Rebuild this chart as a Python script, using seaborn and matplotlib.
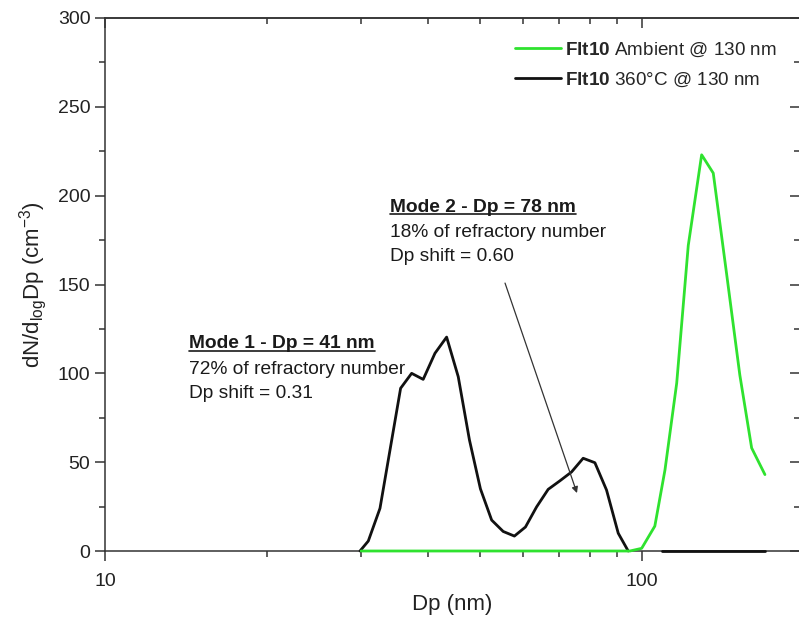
import matplotlib
matplotlib.use("Agg")
import matplotlib.pyplot as plt
from matplotlib.lines import Line2D
from matplotlib.ticker import NullFormatter, FixedLocator
import pandas as pd
import seaborn as sns

# Ambient aerosol size distribution (Flt10)
ambient_dp = [30.0, 95.0, 99.9, 105.7, 110.4, 116.1, 122.0, 129.2, 135.8,
              143.8, 152.2, 160.1, 169.5]
ambient_n = [0, 0, 1.5, 14, 45.6, 94.5, 172, 223, 212.7, 156, 99, 58, 43]

# Size distribution after the 360 °C thermodenuder (Flt10)
heated_dp = [29.85, 30.93, 32.52, 35.53, 37.25, 39.14, 41.17, 43.28, 45.49,
             47.73, 50.03, 52.50, 55.16, 57.88, 60.69, 63.65, 66.9, 70.35,
             73.96, 77.73, 81.74, 85.93, 90.35, 94.3, 109.0, 169.5]
heated_n = [0, 5.6, 24, 91.6, 100, 96.6, 111.3, 120.4, 98.1, 62.5, 35, 17.4,
            11, 8.4, 13.5, 24.8, 34.7, 39.5, 44.5, 52.2, 49.7, 34.3, 10, 0,
            0, 0]
heated_seg = [0] * 24 + [1, 1]

series_labels = [r"$\mathbf{Flt10}$ Ambient @ 130 nm",
                 r"$\mathbf{Flt10}$ 360°C @ 130 nm"]
series_colors = ["#2fe22f", "#111111"]

x_major = [10, 100]
x_major_labels = ["10", "100"]
x_minor = [20, 30, 40, 50, 60, 70, 80, 90]
y_major = [0, 50, 100, 150, 200, 250, 300]
y_minor = [25, 75, 125, 175, 225, 275]

mode1_lines = ["Mode 1 - Dp = 41 nm", "72% of refractory number",
               "Dp shift = 0.31"]
mode2_lines = ["Mode 2 - Dp = 78 nm", "18% of refractory number",
               "Dp shift = 0.60"]

sns.set_theme(style="ticks")
plt.rcParams["font.family"] = ["Liberation Sans", "DejaVu Sans"]
plt.rcParams["mathtext.fontset"] = "custom"
plt.rcParams["mathtext.rm"] = "Liberation Sans"
plt.rcParams["mathtext.it"] = "Liberation Sans:italic"
plt.rcParams["mathtext.bf"] = "Liberation Sans:bold"

df = pd.concat([
    pd.DataFrame({"Dp": heated_dp, "N": heated_n, "seg": heated_seg,
                  "series": series_labels[1]}),
    pd.DataFrame({"Dp": ambient_dp, "N": ambient_n, "seg": 0,
                  "series": series_labels[0]}),
], ignore_index=True)

W, H = 799, 618
fig = plt.figure(figsize=(W / 100, H / 100), dpi=100)
left, right, top, bottom = 105, 800, 18, 551
ax = fig.add_axes([left / W, (H - bottom) / H, (right - left) / W,
                   (bottom - top) / H])

sns.lineplot(data=df, x="Dp", y="N", hue="series", units="seg",
             estimator=None, hue_order=series_labels,
             palette=dict(zip(series_labels, series_colors)),
             linewidth=2.0, ax=ax, sort=False)

# Curves sit above the frame so the zero baselines stay visible
for ln in ax.get_lines():
    ln.set_zorder(3)
    ln.set_clip_on(False)
for ln in ax.get_lines():
    if ln.get_color() == series_colors[0]:
        ln.set_zorder(4)

ax.set_xscale("log")
ax.set_xlim(10, 197)
ax.set_ylim(0, 300)

axis_color = "#333333"
ax.xaxis.set_major_locator(FixedLocator(x_major))
ax.set_xticklabels(x_major_labels)
ax.xaxis.set_minor_locator(FixedLocator(x_minor))
ax.xaxis.set_minor_formatter(NullFormatter())
ax.set_yticks(y_major)
ax.yaxis.set_minor_locator(FixedLocator(y_minor))
ax.tick_params(which="major", direction="out", length=7, width=1.1,
               color=axis_color, labelsize=14, pad=3.5, labelcolor="#222222")
ax.tick_params(which="minor", direction="out", length=4, width=1.1,
               color=axis_color)
ax.tick_params(axis="x", which="major", pad=9)
for side in ["left", "bottom", "top", "right"]:
    ax.spines[side].set_color(axis_color)
    ax.spines[side].set_linewidth(1.1)
    ax.spines[side].set_visible(True)

# Mirror ticks on top and right, pointing inward
top_ax = ax.secondary_xaxis("top")
top_ax.xaxis.set_major_locator(FixedLocator(x_major))
top_ax.xaxis.set_minor_locator(FixedLocator(x_minor))
top_ax.tick_params(which="both", direction="in", labeltop=False,
                   color=axis_color, width=1.1)
top_ax.tick_params(which="major", length=7)
top_ax.tick_params(which="minor", length=4)
top_ax.spines["top"].set_color(axis_color)
top_ax.spines["top"].set_linewidth(1.1)

right_ax = ax.secondary_yaxis("right")
right_ax.yaxis.set_major_locator(FixedLocator(y_major))
right_ax.yaxis.set_minor_locator(FixedLocator(y_minor))
right_ax.tick_params(which="both", direction="in", labelright=False,
                     color=axis_color, width=1.1)
right_ax.tick_params(which="major", length=7)
right_ax.tick_params(which="minor", length=4)

ax.set_xlabel("Dp (nm)", fontsize=16, labelpad=3, color="#222222")
ax.set_ylabel(r"dN/d$_{\mathregular{log}}$Dp (cm$^{\mathregular{-3}}$)",
              fontsize=16, labelpad=6, color="#222222")

handles, labels = ax.get_legend_handles_labels()
order = [labels.index(s) for s in series_labels]
ax.legend([handles[i] for i in order], [labels[i] for i in order],
          loc="upper right", bbox_to_anchor=(0.978, 0.972),
          borderaxespad=0, frameon=False, fontsize=13.6,
          handlelength=2.4, handletextpad=0.25, labelspacing=0.62)
for line in ax.get_legend().get_lines():
    line.set_linewidth(2.0)

# Mode annotations
ann_fs = 13.8
titles = []
for lines, x0, ys in [(mode1_lines, 14.34, [114.1, 99.5, 85.9]),
                      (mode2_lines, 33.94, [191.0, 176.9, 163.2])]:
    for i, (txt, y0) in enumerate(zip(lines, ys)):
        t = ax.text(x0, y0, txt, fontsize=ann_fs, va="baseline", ha="left",
                    fontweight="bold" if i == 0 else "normal",
                    color="#1a1a1a")
        if i == 0:
            titles.append(t)

ax.annotate("", xy=(75.7, 32.6), xytext=(55.6, 150.8),
            arrowprops=dict(arrowstyle="-|>", color="#333333", lw=0.9,
                            mutation_scale=9, shrinkA=0, shrinkB=0))

# Underline the mode headings
fig.canvas.draw()
renderer = fig.canvas.get_renderer()
for t in titles:
    bb = t.get_window_extent(renderer)
    y = (bb.y0 + 1.5) / H
    fig.add_artist(Line2D([bb.x0 / W, bb.x1 / W], [y, y], color="#1a1a1a",
                          lw=1.2, transform=fig.transFigure))

fig.savefig("out.png", dpi=100, facecolor="white")
